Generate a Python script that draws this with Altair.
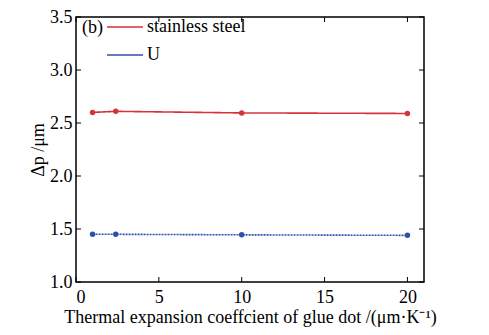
import altair as alt
import pandas as pd

x_vals = [1, 2.4, 10, 20]
steel = [2.60, 2.61, 2.595, 2.59]
u_vals = [1.45, 1.45, 1.445, 1.44]
series = ["stainless steel", "U"]
x_ticks = [0, 5, 10, 15, 20]
y_ticks = [1.0, 1.5, 2.0, 2.5, 3.0, 3.5]

df = pd.DataFrame({
    "x": x_vals + x_vals,
    "y": steel + u_vals,
    "s": [series[0]] * len(x_vals) + [series[1]] * len(x_vals),
})
W, H = 348, 265
FONT = "Liberation Serif"

xs = alt.Scale(domain=[0, 21], nice=False)
ys = alt.Scale(domain=[1.0, 3.5], nice=False)
leg = alt.Legend(title=None, orient="none", legendX=30, legendY=-9,
                 symbolType="stroke", symbolSize=1296, symbolStrokeWidth=1.6,
                 labelFont=FONT, labelFontSize=18, labelColor="black",
                 rowPadding=0, symbolOffset=0, labelOffset=3)
color = alt.Color("s:N", scale=alt.Scale(domain=series, range=["#d7313c", "#2f4fae"]), legend=leg)
dash = alt.StrokeDash("s:N", scale=alt.Scale(domain=series, range=[[1, 0], [2, 1]]), legend=None)

base = alt.Chart(df)
lines = base.mark_line(strokeWidth=1.6).encode(
    x=alt.X("x:Q", scale=xs, axis=alt.Axis(values=x_ticks, title="Thermal expansion coeffcient of glue dot /(μm·K⁻¹)",
                                           ticks=False, labelPadding=6, titlePadding=2, grid=False, domain=False)),
    y=alt.Y("y:Q", scale=ys, axis=alt.Axis(values=y_ticks, format=".1f", title="Δp /μm",
                                           ticks=False, labelPadding=4, titlePadding=2, grid=False, domain=False)),
    color=color, strokeDash=dash)
points = base.mark_point(filled=True, size=30, opacity=1).encode(
    x=alt.X("x:Q", scale=xs), y=alt.Y("y:Q", scale=ys),
    color=alt.Color("s:N", scale=alt.Scale(domain=series, range=["#d7313c", "#2f4fae"]), legend=None))

xt = alt.Chart(pd.DataFrame({"t": x_ticks}))
yt = alt.Chart(pd.DataFrame({"t": y_ticks}))
tb = xt.mark_rule(color="black").encode(x=alt.X("t:Q", scale=xs), y=alt.value(H), y2=alt.value(H - 5))
tt = xt.mark_rule(color="black").encode(x=alt.X("t:Q", scale=xs), y=alt.value(0), y2=alt.value(5))
tl = yt.mark_rule(color="black").encode(y=alt.Y("t:Q", scale=ys), x=alt.value(0), x2=alt.value(5))
tr = yt.mark_rule(color="black").encode(y=alt.Y("t:Q", scale=ys), x=alt.value(W), x2=alt.value(W - 5))
lab = alt.Chart(pd.DataFrame({"l": ["(b)"]})).mark_text(font=FONT, fontSize=18, align="left", baseline="middle").encode(
    text="l:N", x=alt.value(6), y=alt.value(11))

chart = alt.layer(lines, points, tb, tt, tl, tr, lab).resolve_scale(color="independent").properties(
    width=W, height=H, background="white", autosize="none",
    padding={"left": 68, "top": 9, "right": 50, "bottom": 45}
).configure_view(stroke="black", strokeWidth=1.5).configure_axis(
    labelFont=FONT, labelFontSize=18, labelColor="black", titleFont=FONT, titleFontSize=18,
    titleColor="black", titleFontWeight="normal"
).configure_legend(labelFont=FONT, labelFontSize=18, labelColor="black")

chart.save("out.html", embed_options={"renderer": "svg", "actions": False})
